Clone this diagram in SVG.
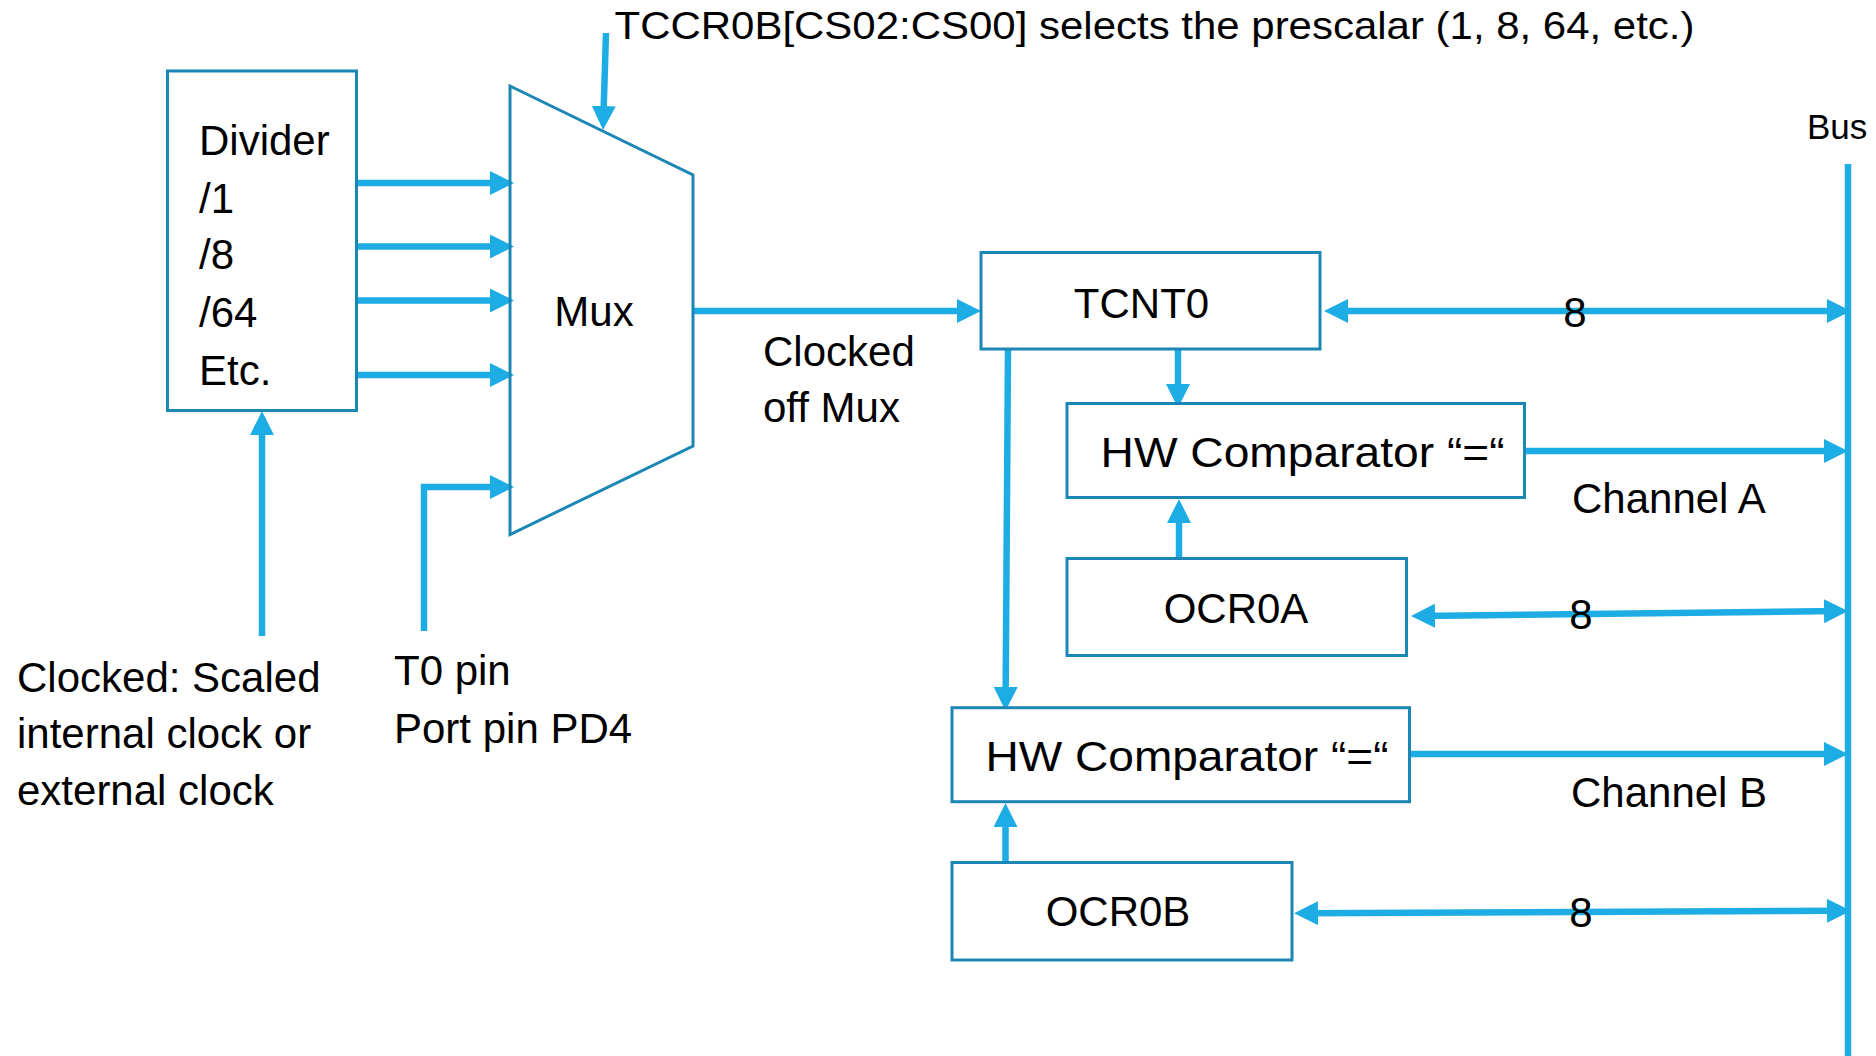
<svg xmlns="http://www.w3.org/2000/svg" width="1876" height="1056" viewBox="0 0 1876 1056">
<defs>
<style>
.box{fill:#fff;stroke:#1C87B5;stroke-width:3}
.mux{fill:none;stroke:#1C87B5;stroke-width:3;stroke-linejoin:miter}
.wire{fill:none;stroke:#1DADE4;stroke-width:6.5}
.arr{marker-end:url(#ah)}
.bi{marker-start:url(#ah);marker-end:url(#ah)}
text{font-family:"Liberation Sans",Arial,sans-serif;font-size:42px;fill:#000}
.mid{text-anchor:middle}
</style>
<marker id="ah" markerUnits="userSpaceOnUse" markerWidth="24" markerHeight="24" refX="14" refY="12" orient="auto-start-reverse" viewBox="0 0 24 24">
<path d="M0,0 L24,12 L0,24 z" fill="#1DADE4"/>
</marker>
</defs>
<rect width="1876" height="1056" fill="#fff"/>

<g id="connectors">
<line class="wire arr" x1="357" y1="183" x2="504" y2="183"/>
<line class="wire arr" x1="357" y1="246.5" x2="504" y2="246.5"/>
<line class="wire arr" x1="357" y1="300.5" x2="504" y2="300.5"/>
<line class="wire arr" x1="357" y1="375" x2="504" y2="375"/>
<path class="wire arr" d="M424,631 V487 H504"/>
<line class="wire arr" x1="262" y1="636" x2="262" y2="421"/>
<line class="wire arr" x1="606" y1="33" x2="603.3" y2="120"/>
<line class="wire arr" x1="693" y1="311" x2="971" y2="311"/>
<line class="wire bi" x1="1334" y1="311" x2="1841" y2="311"/>
<line class="wire arr" x1="1178" y1="349" x2="1178" y2="398"/>
<line class="wire arr" x1="1525" y1="451" x2="1838" y2="451"/>
<line class="wire arr" x1="1179" y1="558" x2="1179" y2="509"/>
<line class="wire bi" x1="1421" y1="615.9" x2="1838" y2="611.1"/>
<line class="wire arr" x1="1008" y1="349" x2="1005.6" y2="701"/>
<line class="wire arr" x1="1410" y1="754" x2="1838" y2="754"/>
<line class="wire arr" x1="1005.5" y1="862" x2="1005.5" y2="813"/>
<line class="wire bi" x1="1304" y1="913.25" x2="1841" y2="910.75"/>
</g>

<g id="bus">
<line class="wire" x1="1848" y1="164" x2="1848" y2="1056"/>
<text x="1807" y="139" style="font-size:35px">Bus</text>
</g>

<g id="title">
<text x="614.5" y="39.3" textLength="1080" lengthAdjust="spacingAndGlyphs" style="font-size:39px">TCCR0B[CS02:CS00] selects the prescalar (1, 8, 64, etc.)</text>
</g>

<g id="divider">
<rect class="box" x="167.5" y="71" width="189" height="339.5"/>
<text x="199" y="155">Divider</text>
<text x="199" y="212.7">/1</text>
<text x="199" y="269">/8</text>
<text x="199" y="327">/64</text>
<text x="199" y="385">Etc.</text>
</g>

<g id="mux">
<polygon class="mux" points="510,86 693,175 693,446 510,534.5"/>
<text class="mid" x="594" y="326">Mux</text>
</g>

<g id="tcnt0">
<rect class="box" x="981" y="252.5" width="339" height="96.5"/>
<text class="mid" x="1141.5" y="317.7">TCNT0</text>
</g>

<g id="compA">
<rect class="box" x="1067" y="403.5" width="457.5" height="94"/>
<text x="1100.6" y="466.7" textLength="404" lengthAdjust="spacingAndGlyphs">HW Comparator “=“</text>
</g>

<g id="ocr0a">
<rect class="box" x="1067" y="558.5" width="339.5" height="97"/>
<text class="mid" x="1236" y="623.3">OCR0A</text>
</g>

<g id="compB">
<rect class="box" x="952" y="707.7" width="457.5" height="94"/>
<text x="985.5" y="770.7" textLength="403" lengthAdjust="spacingAndGlyphs">HW Comparator “=“</text>
</g>

<g id="ocr0b">
<rect class="box" x="952" y="862.5" width="340" height="97.5"/>
<text class="mid" x="1118" y="926">OCR0B</text>
</g>

<g id="labels">
<text class="mid" x="1575" y="327">8</text>
<text class="mid" x="1581" y="629">8</text>
<text class="mid" x="1581" y="927">8</text>
<text x="1572" y="512.7">Channel A</text>
<text x="1571" y="807.3">Channel B</text>
<text x="763" y="366">Clocked</text>
<text x="763" y="422">off Mux</text>
<text x="17" y="691.7">Clocked: Scaled</text>
<text x="17" y="748.3">internal clock or</text>
<text x="17" y="805">external clock</text>
<text x="394" y="685">T0 pin</text>
<text x="394" y="742.7">Port pin PD4</text>
</g>
</svg>
